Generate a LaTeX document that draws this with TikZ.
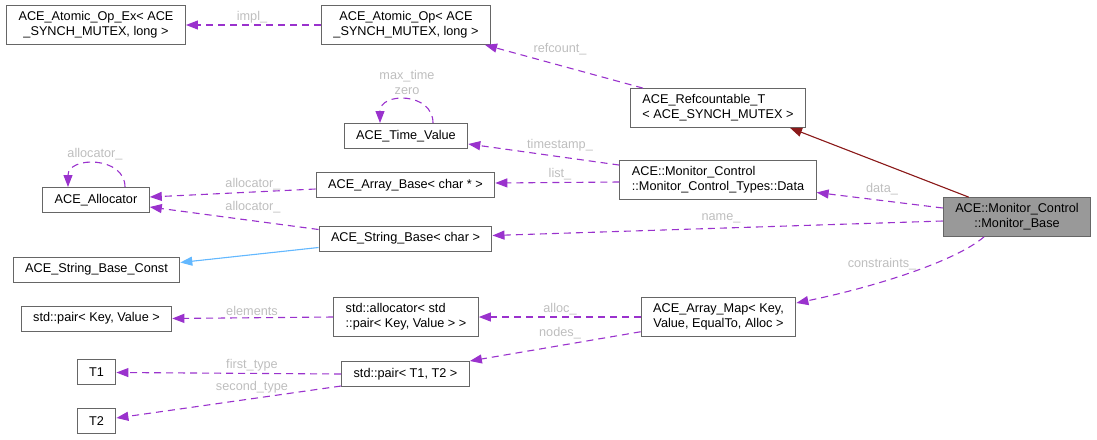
\documentclass[tikz,border=0pt]{standalone}
\usepackage{fontspec}
\setmainfont{Liberation Sans}
\usepackage{xcolor}
\usepackage{tikz}
\usetikzlibrary{arrows.meta}

\definecolor{boxline}{HTML}{666666}
\definecolor{mainfill}{HTML}{999999}
\definecolor{memberline}{HTML}{9A32CD}
\definecolor{lblgray}{HTML}{BEBEBE}
\definecolor{pubinherit}{HTML}{63B8FF}
\definecolor{tmplinherit}{HTML}{8B1A1A}

\begin{document}
\begin{tikzpicture}[x=1pt, y=-1pt,
    every node/.append style={font=\fontsize{12.7}{15}\selectfont},
    cls/.style={draw=boxline, line width=1pt, fill=white, inner xsep=12pt, inner ysep=6pt, minimum height=25pt},
    mainbox/.style={cls, fill=mainfill},
    member/.style={draw=memberline, line width=1.1pt, dash pattern=on 7pt off 5pt, -{Triangle[length=12pt,width=9pt]}},
    inherit/.style={line width=1.1pt, -{Triangle[length=12pt,width=9pt]}},
    lbl/.style={text=lblgray, inner sep=0pt}]
    \useasboundingbox (0,0) rectangle (1097,439);

    \node[cls, align=center] (opex) at (96,25) {ACE\_Atomic\_Op\_Ex< ACE\\\_SYNCH\_MUTEX, long >};
    \node[cls, align=center] (op) at (406,25) {ACE\_Atomic\_Op< ACE\\\_SYNCH\_MUTEX, long >};
    \node[cls, align=left] (refc) at (718,108) {ACE\_Refcountable\_T\\< ACE\_SYNCH\_MUTEX >};
    \node[cls] (tv) at (406,136) {ACE\_Time\_Value};
    \node[cls] (alloc) at (96,200) {ACE\_Allocator};
    \node[cls] (abase) at (405.5,185) {ACE\_Array\_Base< char * >};
    \node[cls, align=left] (data) at (718,180) {ACE::Monitor\_Control\\::Monitor\_Control\_Types::Data};
    \node[mainbox, align=center] (mb) at (1017,217) {ACE::Monitor\_Control\\::Monitor\_Base};
    \node[cls] (sbase) at (405.5,238.5) {ACE\_String\_Base< char >};
    \node[cls] (sconst) at (96.5,269.5) {ACE\_String\_Base\_Const};
    \node[cls] (pairkv) at (96.5,318.5) {std::pair< Key, Value >};
    \node[cls, align=left] (stdalloc) at (406,317) {std::allocator< std\\::pair< Key, Value > >};
    \node[cls, align=center] (amap) at (718.5,317) {ACE\_Array\_Map< Key,\\ Value, EqualTo, Alloc >};
    \node[cls] (pairt) at (405.5,374) {std::pair< T1, T2 >};
    \node[cls] (t1) at (96.5,372) {T1};
    \node[cls] (t2) at (96.5,421) {T2};

    % inheritance
    \draw[inherit, draw=tmplinherit, fill=tmplinherit] ([xshift=26pt]mb.north west) -- ([xshift=72pt]refc.south);
    \draw[inherit, draw=pubinherit, fill=pubinherit] ([yshift=-9pt]sbase.west) -- ([yshift=7pt]sconst.east);

    % members
    \draw[member] (op.west) -- (opex.east);
    \draw[member] ([xshift=13pt]refc.north west) -- ([xshift=-6pt]op.south east);
    \draw[member] ([xshift=27pt]tv.north) .. controls +(0,-31) and +(0,-31) .. ([xshift=-26pt]tv.north);
    \draw[member] ([yshift=-5pt]data.north west) -- ([yshift=-8pt]tv.east);
    \draw[member] ([yshift=-2pt]data.west) -- ([yshift=2pt]abase.east);
    \draw[member] ([yshift=9pt]mb.west) -- ([yshift=-12.5pt]data.east);
    \draw[member] ([yshift=-4pt]mb.west) -- ([yshift=3pt]sbase.east);
    \draw[member] ([xshift=-33pt]mb.south) .. controls (955,262) and (870,288) .. ([yshift=14pt]amap.east);
    \draw[member] ([xshift=29pt]alloc.north) .. controls +(0,-31) and +(0,-31) .. ([xshift=-28pt]alloc.north);
    \draw[member] ([yshift=-4pt]abase.west) -- ([yshift=3pt]alloc.east);
    \draw[member] ([yshift=-4pt]sbase.north west) -- ([yshift=-7pt]alloc.east);
    \draw[member] (stdalloc.west) -- (pairkv.east);
    \draw[member] (amap.west) -- (stdalloc.east);
    \draw[member] ([yshift=5pt]amap.south west) -- (pairt.north east);
    \draw[member] (pairt.west) -- ([yshift=-0.5pt]t1.east);
    \draw[member] ([yshift=1pt]pairt.south west) -- ([yshift=3pt]t2.east);

    % member labels
    \node[lbl] (l-impl) at (252,17) {impl\_};
    \node[lbl] (l-refcount) at (560,49) {refcount\_};
    \node[lbl, align=center] (l-tvself) at (407,82) {max\_time\\zero};
    \node[lbl] (l-timestamp) at (560,145) {timestamp\_};
    \node[lbl] (l-list) at (560,174) {list\_};
    \node[lbl] (l-data) at (882,189) {data\_};
    \node[lbl] (l-name) at (721,218) {name\_};
    \node[lbl] (l-constraints) at (882,264) {constraints\_};
    \node[lbl] (l-allocself) at (95,154) {allocator\_};
    \node[lbl] (l-alloc1) at (253,184) {allocator\_};
    \node[lbl] (l-alloc2) at (253,207) {allocator\_};
    \node[lbl] (l-elements) at (252,311) {elements};
    \node[lbl] (l-allocm) at (560,309) {alloc\_};
    \node[lbl] (l-nodes) at (560,333) {nodes\_};
    \node[lbl] (l-first) at (252,365) {first\_type};
    \node[lbl] (l-second) at (252,387) {second\_type};
\end{tikzpicture}
\end{document}
